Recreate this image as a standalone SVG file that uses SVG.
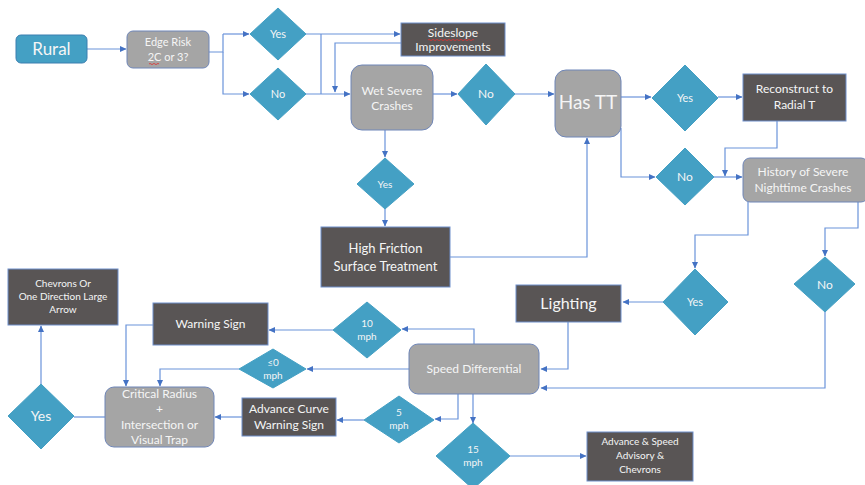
<svg xmlns="http://www.w3.org/2000/svg" width="865" height="485" viewBox="0 0 865 485">
<defs>
<marker id="ah" markerWidth="7" markerHeight="7" refX="6" refY="3.5" orient="auto" markerUnits="userSpaceOnUse">
<path d="M0,0.5 L6.5,3.5 L0,6.5 Z" fill="#4472C4"/>
</marker>
<style>
text{font-family:Lato,"Open Sans","Liberation Sans",sans-serif;text-anchor:middle;fill:#F5F5F5}
.dia{fill:#44A0C4;stroke:#44A0C4;stroke-width:1}
.blue{fill:#44A0C4;stroke:#3B7FB0;stroke-width:1}
.gray{fill:#A5A5A5;stroke:#6F86B8;stroke-width:1}
.dark{fill:#595555;stroke:#6F8FCB;stroke-width:1}
.c{fill:none;stroke:#6A93DA;stroke-width:1.2}
.a{marker-end:url(#ah)}
.spell{fill:none;stroke:#E03030;stroke-width:0.8}
</style>
</defs>
<rect width="865" height="485" fill="#FFFFFF"/>

<g id="connectors">
<path class="c a" d="M87,49 H126"/>
<path class="c" d="M209,52 H223 V34"/>
<path class="c a" d="M223,34 H249"/>
<path class="c a" d="M223,52 V94 H249"/>
<path class="c a" d="M306,34 H400"/>
<path class="c" d="M321,34 V94"/>
<path class="c a" d="M306,94 H350"/>
<path class="c a" d="M401,43 H335 V92"/>
<path class="c a" d="M433,94 H457"/>
<path class="c a" d="M515,94 H554"/>
<path class="c a" d="M621,97 H651"/>
<path class="c a" d="M718,97 H742"/>
<path class="c a" d="M621,128 V177 H655"/>
<path class="c a" d="M714,177 H742"/>
<path class="c a" d="M777,121 V148 H725 V176"/>
<path class="c a" d="M385,130 V157"/>
<path class="c a" d="M385,209 V226"/>
<path class="c a" d="M450,257 H587 V138"/>
<path class="c a" d="M748,202 V235 H695 V268"/>
<path class="c a" d="M858,202 V228 H825 V256"/>
<path class="c a" d="M663,302 H623"/>
<path class="c a" d="M825,312 V388 H541"/>
<path class="c a" d="M568,322 V369 H541"/>
<path class="c a" d="M474,344 V329 H402"/>
<path class="c a" d="M333,330 H269"/>
<path class="c a" d="M153,325 H126 V386"/>
<path class="c a" d="M409,369 H307"/>
<path class="c a" d="M239,369 H160 V386"/>
<path class="c a" d="M458,394 V419 H435"/>
<path class="c a" d="M364,420 H337"/>
<path class="c a" d="M242,417 H215"/>
<path class="c" d="M105,417 H74"/>
<path class="c a" d="M41,384 V326"/>
<path class="c a" d="M473,394 V423"/>
<path class="c a" d="M510,456 H586"/>
</g>

<g id="rural"><rect class="blue" x="16" y="35" width="71" height="28" rx="5"/><text x="51.5" y="55" font-size="17">Rural</text></g>

<g id="edge-risk"><rect class="gray" x="127" y="31" width="82" height="37" rx="6"/>
<text x="168" y="46" font-size="11">Edge Risk</text><text x="168" y="61" font-size="11">2C or 3?</text>
<path class="spell" d="M149,64 q1,-1.2 2,0 t2,0 t2,0 t2,0 t2,0"/></g>

<g id="yes1"><polygon class="dia" points="278,8 306,34 278,60 250,34"/><text x="278" y="38" font-size="11">Yes</text></g>
<g id="no1"><polygon class="dia" points="278,68 306,94 278,120 250,94"/><text x="278" y="98" font-size="11">No</text></g>

<g id="sideslope"><rect class="dark" x="401" y="23" width="104" height="33"/>
<text x="453" y="37" font-size="12">Sideslope</text><text x="453" y="51" font-size="12">Improvements</text>
<path class="spell" d="M428,40 q1,-1.2 2,0 t2,0 t2,0 t2,0 t2,0 t2,0 t2,0 t2,0 t2,0 t2,0 t2,0 t2,0 t2,0 t2,0 t2,0 t2,0 t2,0 t2,0 t2,0 t2,0 t2,0 t2,0 t2,0"/></g>

<g id="wet-severe"><rect class="gray" x="351" y="65" width="82" height="65" rx="11"/>
<text x="392" y="95" font-size="12">Wet Severe</text><text x="392" y="110" font-size="12">Crashes</text></g>

<g id="no2"><polygon class="dia" points="486,64 515,94 486,125 458,94"/><text x="486" y="98" font-size="12">No</text></g>

<g id="has-tt"><rect class="gray" x="555" y="70" width="66" height="67" rx="11"/><text x="588" y="109" font-size="19">Has TT</text></g>

<g id="yes3"><polygon class="dia" points="685,65 718,98 685,131 652,98"/><text x="685" y="102" font-size="11">Yes</text></g>

<g id="reconstruct"><rect class="dark" x="743" y="74" width="103" height="47"/>
<text x="794.5" y="93" font-size="12">Reconstruct to</text><text x="794.5" y="109" font-size="12">Radial T</text></g>

<g id="no3"><polygon class="dia" points="685,148 714,177 685,205 656,177"/><text x="685" y="181" font-size="12">No</text></g>

<g id="history"><rect class="gray" x="743" y="158" width="125" height="44" rx="7"/>
<text x="803" y="176" font-size="12">History of Severe</text><text x="803" y="192" font-size="12">Nighttime Crashes</text></g>

<g id="yes-wet"><polygon class="dia" points="385,158 414,184 385,209 357,184"/><text x="385" y="188" font-size="10">Yes</text></g>

<g id="hfst"><rect class="dark" x="321" y="227" width="129" height="60"/>
<text x="385.5" y="253" font-size="13">High Friction</text><text x="385.5" y="271" font-size="13">Surface Treatment</text></g>

<g id="yes-light"><polygon class="dia" points="695,269 728,302 695,335 663,302"/><text x="695" y="306" font-size="11">Yes</text></g>

<g id="no-night"><polygon class="dia" points="825,257 855,284 825,312 794,284"/><text x="825" y="289" font-size="12">No</text></g>

<g id="lighting"><rect class="dark" x="516" y="285" width="105" height="37"/><text x="568.5" y="309" font-size="16">Lighting</text></g>

<g id="speed-diff"><rect class="gray" x="409" y="344" width="130" height="50" rx="9"/><text x="474" y="373" font-size="12">Speed Differential</text></g>

<g id="mph10"><polygon class="dia" points="367,302 401,330 367,358 333,330"/><text x="367" y="327" font-size="10">10</text><text x="367" y="340" font-size="10">mph</text></g>

<g id="warning-sign"><rect class="dark" x="153" y="303" width="115" height="42"/><text x="210.5" y="328" font-size="12">Warning Sign</text></g>

<g id="mph0"><polygon class="dia" points="273,349 306,369 273,388 239,369"/><text x="273" y="366" font-size="10">≤0</text><text x="273" y="379" font-size="10">mph</text></g>

<g id="critical"><rect class="gray" x="105" y="387" width="109" height="60" rx="9"/>
<text x="159.5" y="398" font-size="12">Critical Radius</text><text x="159.5" y="413" font-size="12">+</text>
<text x="159.5" y="429" font-size="12">Intersection or</text><text x="159.5" y="444" font-size="12">Visual Trap</text></g>

<g id="yes-left"><polygon class="dia" points="41,384 74,416 41,449 8,416"/><text x="41" y="421" font-size="14">Yes</text></g>

<g id="chevrons"><rect class="dark" x="8" y="269" width="110" height="56"/>
<text x="63" y="287" font-size="10">Chevrons Or</text><text x="63" y="300" font-size="10">One Direction Large</text><text x="63" y="313" font-size="10">Arrow</text></g>

<g id="advance-curve"><rect class="dark" x="242" y="398" width="94" height="38"/>
<text x="289" y="413" font-size="12">Advance Curve</text><text x="289" y="429" font-size="12">Warning Sign</text></g>

<g id="mph5"><polygon class="dia" points="399,396 434,420 399,443 364,420"/><text x="399" y="416" font-size="10">5</text><text x="399" y="429" font-size="10">mph</text></g>

<g id="mph15"><polygon class="dia" points="473,423 510,456 473,489 436,456"/><text x="473" y="453" font-size="10">15</text><text x="473" y="466" font-size="10">mph</text></g>

<g id="advance-speed"><rect class="dark" x="587" y="432" width="106" height="49"/>
<text x="640" y="445" font-size="10">Advance &amp; Speed</text><text x="640" y="459" font-size="10">Advisory &amp;</text><text x="640" y="473" font-size="10">Chevrons</text></g>
</svg>
